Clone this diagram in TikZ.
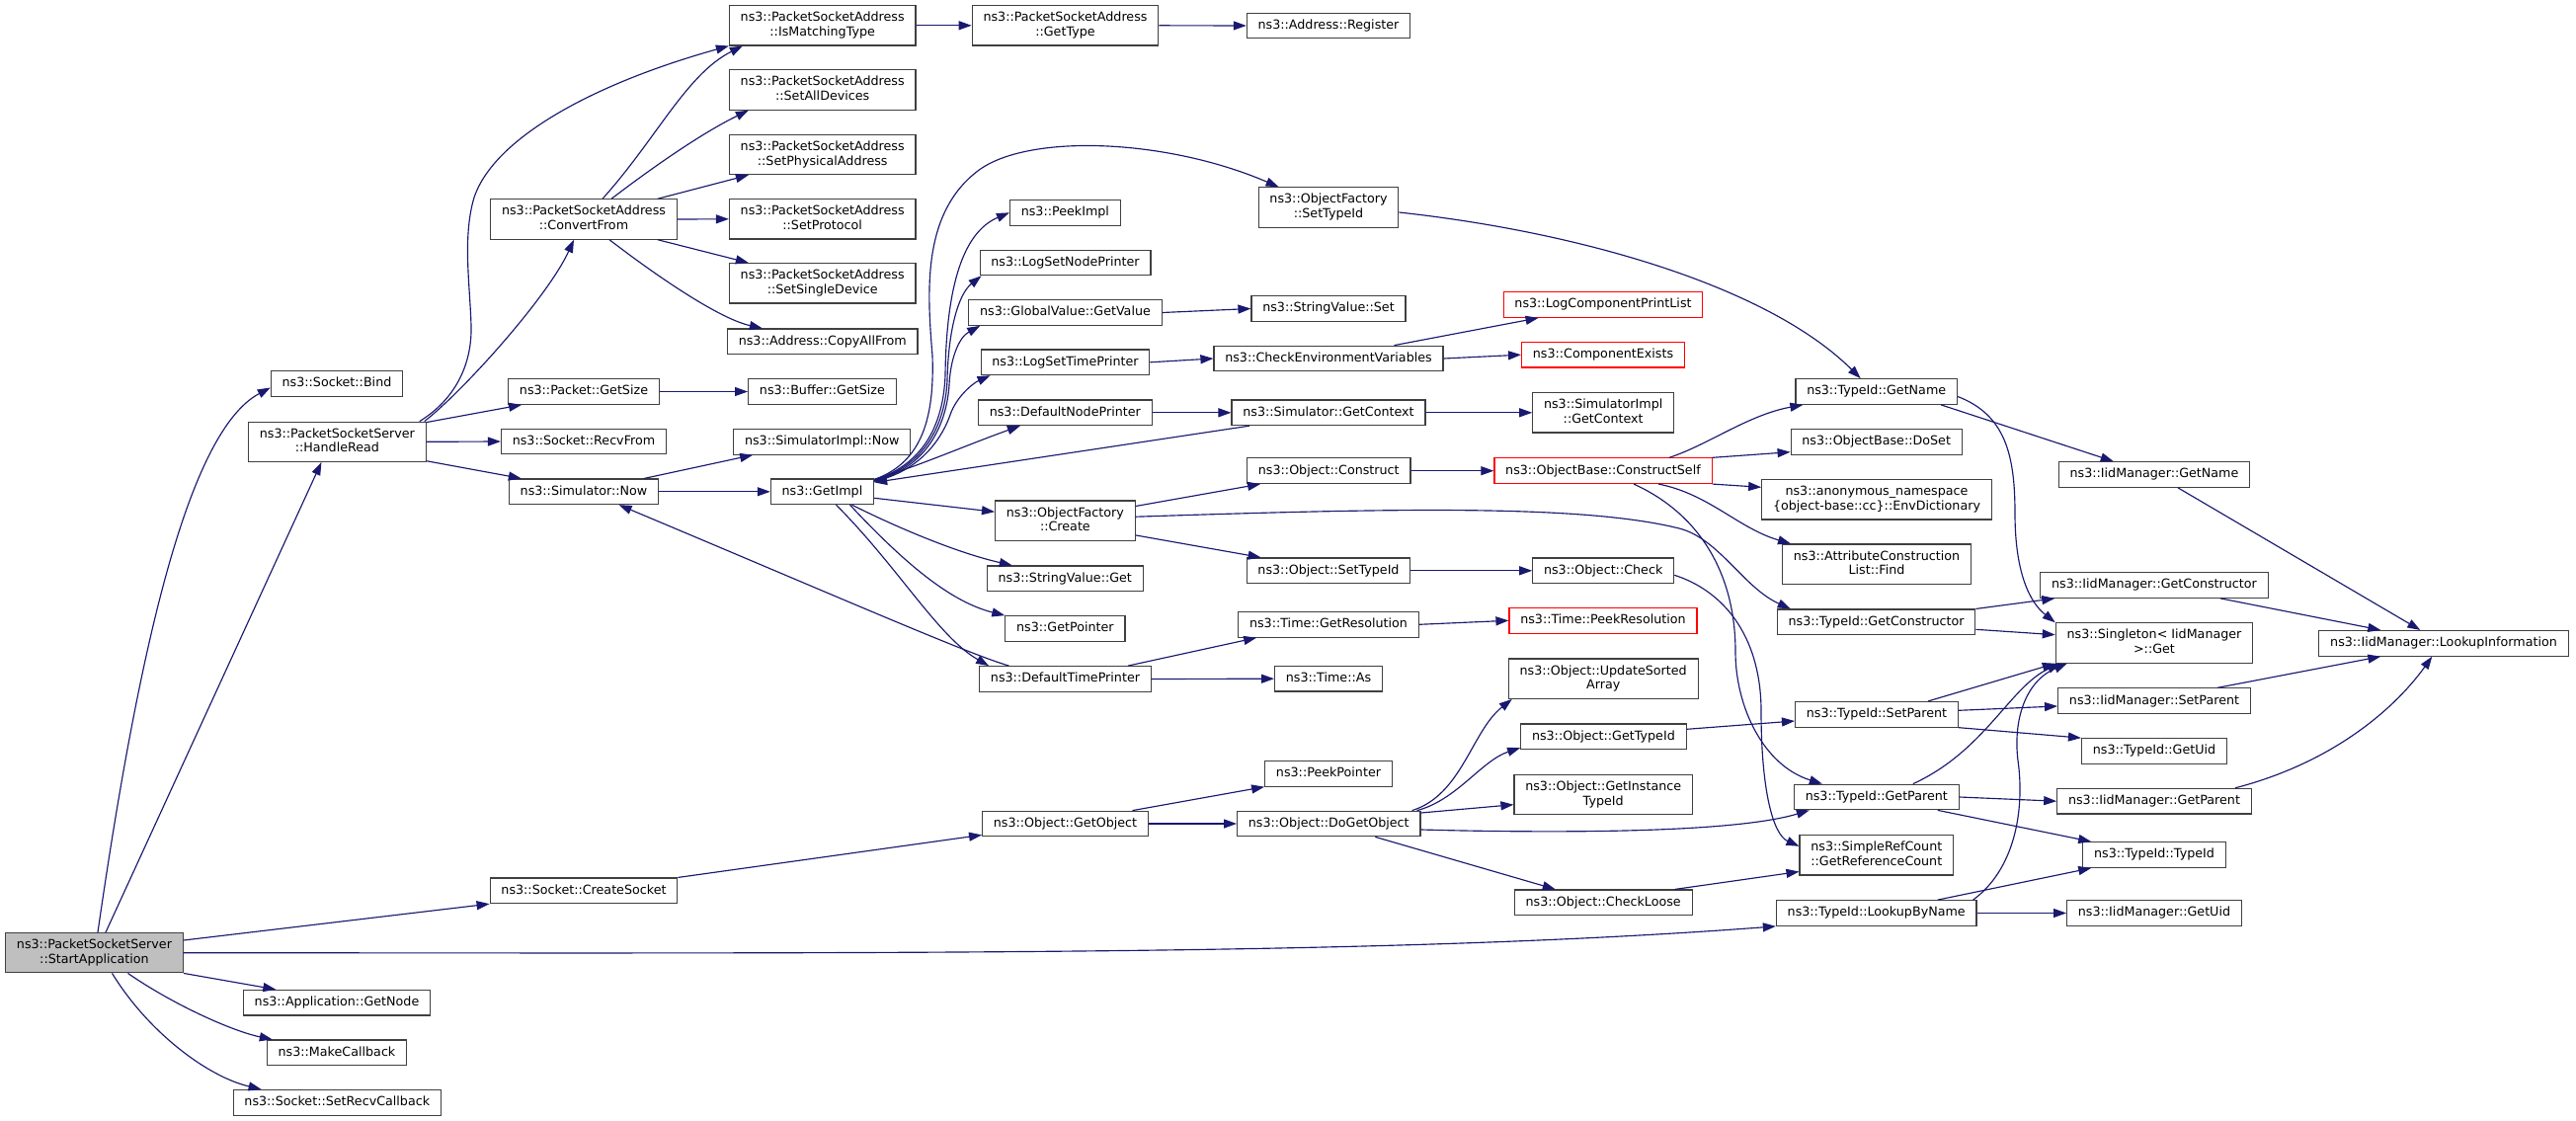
\documentclass[tikz,border=0pt]{standalone}
\usepackage{fontspec}
\usetikzlibrary{arrows.meta}
\newfontfamily\nodefam{DejaVu Sans}
\newcommand\nf{\nodefam\fontsize{12.7pt}{14.7pt}\selectfont}
\newcommand\sv{\rule[-3.05pt]{0pt}{12.7pt}}
\definecolor{edgeblue}{HTML}{191970}
\definecolor{bordergray}{HTML}{404040}
\definecolor{safill}{HTML}{BFBFBF}
\definecolor{bred}{HTML}{FF0000}
\begin{document}
\begin{tikzpicture}[x=1pt,y=-1pt,
  nbox/.style={draw=bordergray, line width=1.15pt, fill=white, font=\nf, inner xsep=11.3pt, inner ysep=6.45pt, align=center, execute at begin node=\sv},
  rbox/.style={draw=bred},
  cedge/.style={draw=edgeblue, line width=1.15pt, -{Triangle[length=13pt,width=9pt]}}]
\fill[white] (0,0) rectangle (2608,1135);
\useasboundingbox (0,0) rectangle (2608,1135);
% column 0
\node[nbox,fill=safill] (sa) at (95.5,964.7) {\sv ns3::PacketSocketServer\\::StartApplication};
% column 1
\node[nbox] (bind) at (341,388.5) {ns3::Socket::Bind};
\node[nbox] (hr) at (341.4,447.3) {\sv ns3::PacketSocketServer\\::HandleRead};
\node[nbox] (getnode) at (341,1015.2) {ns3::Application::GetNode};
\node[nbox] (mkcb) at (341,1065.8) {ns3::MakeCallback};
\node[nbox] (setrecv) at (341.3,1116.3) {ns3::Socket::SetRecvCallback};
% column 2
\node[nbox] (cf) at (591,222) {\sv ns3::PacketSocketAddress\\::ConvertFrom};
\node[nbox] (pgs) at (591,396.5) {ns3::Packet::GetSize};
\node[nbox] (recv) at (591,447) {ns3::Socket::RecvFrom};
\node[nbox] (snow) at (591,497.8) {ns3::Simulator::Now};
\node[nbox] (cs) at (591,901.8) {ns3::Socket::CreateSocket};
% column 3
\node[nbox] (imt) at (832.7,25.8) {\sv ns3::PacketSocketAddress\\::IsMatchingType};
\node[nbox] (sad) at (832.7,91) {\sv ns3::PacketSocketAddress\\::SetAllDevices};
\node[nbox] (spa) at (832.7,156.5) {\sv ns3::PacketSocketAddress\\::SetPhysicalAddress};
\node[nbox] (spr) at (832.7,221.8) {\sv ns3::PacketSocketAddress\\::SetProtocol};
\node[nbox] (ssd) at (832.7,286.8) {\sv ns3::PacketSocketAddress\\::SetSingleDevice};
\node[nbox] (caf) at (832.7,345.8) {ns3::Address::CopyAllFrom};
\node[nbox] (bgs) at (832.4,396.5) {ns3::Buffer::GetSize};
\node[nbox] (sinow) at (832.3,447.3) {ns3::SimulatorImpl::Now};
\node[nbox] (gi) at (832.5,497.8) {ns3::GetImpl};
% column 4
\node[nbox] (gt) at (1078.5,25.8) {\sv ns3::PacketSocketAddress\\::GetType};
\node[nbox] (pimpl) at (1078.4,215.3) {ns3::PeekImpl};
\node[nbox] (lsnp) at (1078.5,266) {ns3::LogSetNodePrinter};
\node[nbox] (gvgv) at (1078.5,316.5) {ns3::GlobalValue::GetValue};
\node[nbox] (lstp) at (1078.5,366.8) {ns3::LogSetTimePrinter};
\node[nbox] (dnp) at (1078.3,417.8) {ns3::DefaultNodePrinter};
\node[nbox] (ofc) at (1078.4,527.2) {\sv ns3::ObjectFactory\\::Create};
\node[nbox] (svg) at (1078.3,585.8) {ns3::StringValue::Get};
\node[nbox] (gp) at (1078.4,636.5) {ns3::GetPointer};
\node[nbox] (dtp) at (1078.5,687.5) {ns3::DefaultTimePrinter};
\node[nbox] (ogo) at (1078.5,834) {ns3::Object::GetObject};
% column 5
\node[nbox] (areg) at (1345,26) {ns3::Address::Register};
\node[nbox] (ofst) at (1345,210) {\sv ns3::ObjectFactory\\::SetTypeId};
\node[nbox] (svs) at (1345,312.5) {ns3::StringValue::Set};
\node[nbox] (cev) at (1345,363) {ns3::CheckEnvironmentVariables};
\node[nbox] (sgc) at (1345,417.8) {ns3::Simulator::GetContext};
\node[nbox] (oc) at (1345.3,476.7) {ns3::Object::Construct};
\node[nbox] (ost) at (1345,577.8) {ns3::Object::SetTypeId};
\node[nbox] (tgr) at (1345,632.3) {ns3::Time::GetResolution};
\node[nbox] (tas) at (1345,687.2) {ns3::Time::As};
\node[nbox] (pp) at (1345,783.3) {ns3::PeekPointer};
\node[nbox] (odgo) at (1345.3,834) {ns3::Object::DoGetObject};
% column 6
\node[nbox,rbox] (lcpl) at (1623,308.5) {ns3::LogComponentPrintList};
\node[nbox,rbox] (cex) at (1623,359.2) {ns3::ComponentExists};
\node[nbox] (sigc) at (1623.2,417.8) {\sv ns3::SimulatorImpl\\::GetContext};
\node[nbox,rbox] (obcs) at (1623,476.7) {ns3::ObjectBase::ConstructSelf};
\node[nbox] (ochk) at (1623.2,577.8) {ns3::Object::Check};
\node[nbox,rbox] (tpr) at (1623,628.3) {ns3::Time::PeekResolution};
\node[nbox] (ousa) at (1623.2,687.2) {\sv ns3::Object::UpdateSorted\\Array};
\node[nbox] (ogt) at (1623.4,745.8) {ns3::Object::GetTypeId};
\node[nbox] (ogit) at (1623.2,804.7) {\sv ns3::Object::GetInstance\\TypeId};
\node[nbox] (ocl) at (1623.2,913.8) {ns3::Object::CheckLoose};
% column 7
\node[nbox] (tgn) at (1899.7,396.5) {ns3::TypeId::GetName};
\node[nbox] (obds) at (1899.7,447.3) {ns3::ObjectBase::DoSet};
\node[nbox] (anon) at (1900,505.8) {\sv ns3::anonymous\_namespace\\\{object-base::cc\}::EnvDictionary};
\node[nbox] (acl) at (1900,571.2) {\sv ns3::AttributeConstruction\\List::Find};
\node[nbox] (tgc) at (1899.6,629.8) {ns3::TypeId::GetConstructor};
\node[nbox] (tsp) at (1900,723.3) {ns3::TypeId::SetParent};
\node[nbox] (tgpar) at (1899.8,807) {ns3::TypeId::GetParent};
\node[nbox] (src) at (1899.8,865.8) {\sv ns3::SimpleRefCount\\::GetReferenceCount};
\node[nbox] (tlbn) at (1899.7,924.5) {ns3::TypeId::LookupByName};
% column 8
\node[nbox] (ign) at (2181,480.5) {ns3::IidManager::GetName};
\node[nbox] (igc) at (2181,592.5) {ns3::IidManager::GetConstructor};
\node[nbox] (sing) at (2181,651) {\sv ns3::Singleton< IidManager\\>::Get};
\node[nbox] (isp) at (2181,709.7) {ns3::IidManager::SetParent};
\node[nbox] (tgu) at (2181,760.5) {ns3::TypeId::GetUid};
\node[nbox] (igp) at (2181,811.2) {ns3::IidManager::GetParent};
\node[nbox] (ttid) at (2181,865.5) {ns3::TypeId::TypeId};
\node[nbox] (igu) at (2181,924.5) {ns3::IidManager::GetUid};
% column 9
\node[nbox] (ili) at (2474,651.3) {ns3::IidManager::LookupInformation};

% ---- edges from StartApplication
\draw[cedge] ([xshift=3.5pt]sa.north) .. controls (140,660) and (190,437) .. ([yshift=-4pt]bind.west);
\draw[cedge] ([xshift=11.5pt]sa.north) -- ([xshift=-16pt]hr.south);
\draw[cedge] ([yshift=12.7pt]sa.east) -- (cs.south west);
\draw[cedge] (sa.east) .. controls (900,965) and (1400,968) .. (tlbn.south west);
\draw[cedge] (sa.south east) -- ([xshift=33.5pt]getnode.north west);
\draw[cedge] ([xshift=34pt]sa.south) .. controls (175,1017) and (235,1044) .. ([xshift=6pt]mkcb.north west);
\draw[cedge] ([xshift=18pt]sa.south) .. controls (150,1045) and (210,1090) .. ([xshift=29pt]setrecv.north west);
% ---- HandleRead
\draw[cedge] ([xshift=-7pt]hr.north east) .. controls (460,405) and (478,370) .. (477,330) .. controls (476,290) and (468,240) .. (480,200) .. controls (500,140) and (600,85) .. (imt.south west);
\draw[cedge] ([xshift=-2pt]hr.north east) .. controls (470,395) and (555,300) .. ([xshift=-10pt]cf.south);
\draw[cedge] ([yshift=-1pt]hr.north east) -- ([xshift=14pt]pgs.south west);
\draw[cedge] (hr.east) -- (recv.west);
\draw[cedge] ([yshift=1.3pt]hr.south east) -- ([xshift=13pt]snow.north west);
% ---- ConvertFrom
\draw[cedge] ([xshift=19pt]cf.north) .. controls (665,140) and (695,75) .. ([xshift=14pt]imt.south west);
\draw[cedge] ([xshift=28pt]cf.north) .. controls (660,170) and (710,135) .. ([xshift=20pt]sad.south west);
\draw[cedge] ([xshift=-20pt]cf.north east) -- ([xshift=20pt]spa.south west);
\draw[cedge] (cf.east) -- (spr.west);
\draw[cedge] ([xshift=-20pt]cf.south east) -- ([xshift=20pt]ssd.north west);
\draw[cedge] ([xshift=26pt]cf.south) .. controls (655,272) and (725,322) .. ([xshift=36pt]caf.north west);
\draw[cedge] (imt.east) -- (gt.west);
\draw[cedge] (gt.east) -- (areg.west);
\draw[cedge] (pgs.east) -- (bgs.west);
\draw[cedge] ([xshift=-15pt]snow.north east) -- ([xshift=20pt]sinow.south west);
\draw[cedge] (snow.east) -- (gi.west);
% ---- GetImpl
\draw[cedge] ([yshift=-1pt]gi.north east) .. controls (935,468) and (946,420) .. (944,360) .. controls (938,290) and (935,215) .. (990,173) .. controls (1040,135) and (1180,140) .. ([xshift=21pt]ofst.north west);
\draw[cedge] ([yshift=-1.5pt]gi.north east) .. controls (935,470) and (955,430) .. (957,380) .. controls (958,290) and (975,235) .. (pimpl.west);
\draw[cedge] ([yshift=-2pt]gi.north east) .. controls (936,472) and (957,430) .. (959,385) .. controls (960,335) and (970,298) .. ([xshift=2pt]lsnp.south west);
\draw[cedge] ([yshift=-2.5pt]gi.north east) .. controls (937,474) and (958,432) .. (961,390) .. controls (962,365) and (970,342) .. ([xshift=12pt]gvgv.south west);
\draw[cedge] ([yshift=-3pt]gi.north east) .. controls (935,476) and (955,440) .. (962,420) .. controls (968,402) and (985,388) .. ([xshift=10pt]lstp.south west);
\draw[cedge] ([yshift=-1pt]gi.north east) .. controls (930,472) and (980,450) .. ([xshift=43pt]dnp.south west);
\draw[cedge] ([xshift=18.5pt]sgc.south west) -- ([yshift=-4pt]gi.north east);
\draw[cedge] ([yshift=-6.5pt]gi.east) -- ([yshift=9pt]ofc.west);
\draw[cedge] ([xshift=30pt]gi.south) .. controls (910,535) and (970,560) .. ([xshift=26pt]svg.north west);
\draw[cedge] ([xshift=28pt]gi.south) .. controls (920,575) and (965,610) .. (gp.north west);
\draw[cedge] ([xshift=14pt]gi.south) .. controls (910,575) and (950,645) .. ([xshift=10pt]dtp.north west);
% ---- printers etc.
\draw[cedge] ([xshift=-57pt]dtp.north) .. controls (980,662) and (850,605) .. ([xshift=35.6pt]snow.south);
\draw[cedge] ([xshift=-24pt]dtp.north east) -- ([xshift=19pt]tgr.south west);
\draw[cedge] (dtp.east) -- (tas.west);
\draw[cedge] (dnp.east) -- (sgc.west);
\draw[cedge] (gvgv.east) -- (svs.west);
\draw[cedge] (lstp.east) -- (cev.west);
\draw[cedge] ([xshift=66.5pt]cev.north) -- ([xshift=36pt]lcpl.south west);
\draw[cedge] (cev.east) -- (cex.west);
\draw[cedge] (sgc.east) -- (sigc.west);
\draw[cedge] ([yshift=-5pt]ofst.east) .. controls (1600,235) and (1790,290) .. ([xshift=-16pt]tgn.north);
% ---- ObjectFactory::Create
\draw[cedge] ([yshift=-6pt]ofc.north east) -- ([xshift=14pt]oc.south west);
\draw[cedge] ([yshift=6pt]ofc.south east) -- ([xshift=15pt]ost.north west);
\draw[cedge] ([yshift=4pt]ofc.east) .. controls (1400,515) and (1600,510) .. (1700,535) .. controls (1740,545) and (1765,595) .. ([xshift=14pt]tgc.north west);
\draw[cedge] (oc.east) -- (obcs.west);
\draw[cedge] (ost.east) -- (ochk.west);
\draw[cedge] (tgr.east) -- (tpr.west);
% ---- ConstructSelf
\draw[cedge] ([xshift=67pt]obcs.north) .. controls (1730,450) and (1770,420) .. ([xshift=8pt]tgn.south west);
\draw[cedge] (obcs.north east) -- ([yshift=3pt]obds.south west);
\draw[cedge] (obcs.south east) -- ([yshift=12.5pt]anon.west);
\draw[cedge] ([xshift=56pt]obcs.south) .. controls (1730,500) and (1760,535) .. ([xshift=9pt]acl.north west);
\draw[cedge] ([xshift=31pt]obcs.south) .. controls (1720,520) and (1757,580) .. (1757,660) .. controls (1757,715) and (1785,775) .. ([xshift=29pt]tgpar.north west);
\draw[cedge] ([yshift=-4.5pt]ochk.east) .. controls (1750,600) and (1783,650) .. (1783,720) .. controls (1783,800) and (1795,845) .. ([yshift=9pt]src.west);
% ---- DoGetObject
\draw[cedge] ([xshift=-9pt]odgo.north east) .. controls (1480,805) and (1490,740) .. ([xshift=4pt]ousa.south west);
\draw[cedge] ([xshift=-4pt]odgo.north east) .. controls (1475,810) and (1500,770) .. ([yshift=2pt]ogt.south west);
\draw[cedge] ([yshift=11pt]odgo.east) -- ([yshift=-10pt]ogit.west);
\draw[cedge] ([yshift=-6pt]odgo.east) .. controls (1550,843) and (1750,845) .. ([xshift=16pt]tgpar.south west);
\draw[cedge] ([xshift=47pt]odgo.south) -- ([xshift=42pt]ocl.north west);
\draw[cedge] ([xshift=68pt]ogo.north) -- (pp.south west);
\draw[cedge] (ogo.east) -- (odgo.west);
\draw[cedge] (cs.north east) -- ([yshift=2pt]ogo.south west);
\draw[cedge] ([yshift=7.5pt]ogt.east) -- ([yshift=-6.7pt]tsp.west);
\draw[cedge] ([xshift=-18pt]ocl.north east) -- ([yshift=4pt]src.south west);
% ---- TypeId / IidManager
\draw[cedge] ([xshift=-17pt]tgn.south east) -- ([xshift=56pt]ign.north west);
\draw[cedge] ([yshift=-5pt]tgn.east) .. controls (2030,420) and (2040,460) .. (2040,520) .. controls (2040,580) and (2055,610) .. (sing.north west);
\draw[cedge] (tgc.north east) -- ([xshift=15pt]igc.south west);
\draw[cedge] ([yshift=-7.5pt]tgc.east) -- ([yshift=8.3pt]sing.west);
\draw[cedge] ([xshift=24pt]ign.south) -- ([xshift=103pt]ili.north west);
\draw[cedge] ([xshift=67pt]igc.south) -- ([xshift=63pt]ili.north west);
\draw[cedge] ([xshift=64pt]isp.north) -- ([xshift=63pt]ili.south west);
\draw[cedge] ([xshift=-17pt]igp.north east) .. controls (2370,770) and (2430,710) .. ([xshift=115pt]ili.south west);
\draw[cedge] ([xshift=-31pt]tsp.north east) -- (sing.south west);
\draw[cedge] ([yshift=4pt]tsp.east) -- ([yshift=-5.3pt]isp.west);
\draw[cedge] (tsp.south east) -- (tgu.north west);
\draw[cedge] ([xshift=37pt]tgpar.north) .. controls (2010,760) and (2035,695) .. ([xshift=5pt]sing.south west);
\draw[cedge] (tgpar.east) -- (igp.west);
\draw[cedge] ([xshift=-22pt]tgpar.south east) -- ([xshift=9pt]ttid.north west);
\draw[cedge] ([xshift=-4pt]tlbn.north east) .. controls (2040,880) and (2050,820) .. (2043,770) .. controls (2038,730) and (2050,690) .. ([xshift=12pt]sing.south west);
\draw[cedge] ([xshift=62pt]tlbn.north) -- ([xshift=9pt]ttid.south west);
\draw[cedge] (tlbn.east) -- (igu.west);
\end{tikzpicture}
\end{document}
